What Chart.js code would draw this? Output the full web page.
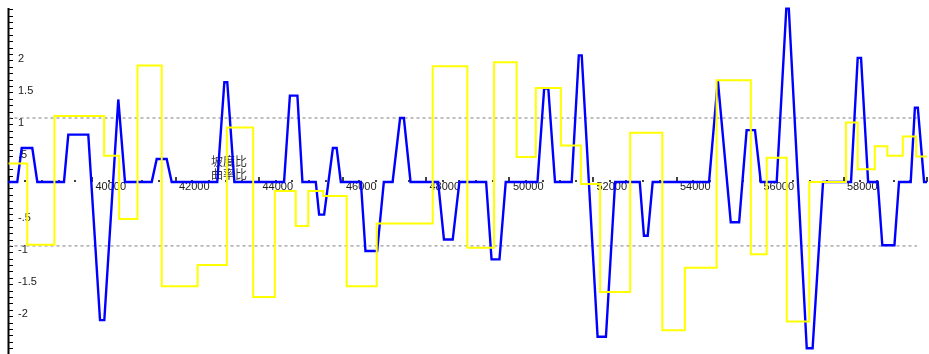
<!DOCTYPE html>
<html>
<head>
<meta charset="utf-8">
<script src="https://cdn.jsdelivr.net/npm/chart.js@4/dist/chart.umd.min.js"></script>
<style>
  html, body { margin: 0; padding: 0; background: #ffffff; }
  #wrap { width: 929px; height: 354px; }
</style>
</head>
<body>
<div id="wrap"><canvas id="c" width="929" height="354"></canvas></div>
<script>
// Series names
const seriesNames = ['坡度比', '曲率比'];

// 坡度比 (blue polyline): chainage and ratio
const blueX = [38000, 38210, 38316, 38570, 38690, 39329, 39432, 39911, 40192, 40295,
  40630, 40790, 41430, 41550, 41789, 41909, 43000, 43170, 43240, 43410,
  44600, 44740, 44920, 45040, 45360, 45440, 45560, 45770, 45860, 45960,
  46440, 46550, 46830, 46990, 47200, 47380, 47470, 47630, 48290, 48430,
  48640, 48800, 49440, 49570, 49760, 49910, 50670, 50830, 50930, 51090,
  51490, 51660, 51730, 52110, 52310, 52530, 53120, 53220, 53310, 53430,
  54780, 54990, 55300, 55500, 55680, 55880, 56020, 56400, 56630, 56690,
  57120, 57260, 57510, 58180, 58340, 58420, 58590, 58820, 58930, 59220,
  59330, 59610, 59710, 59780, 59930, 60000];
const blueY = [0, 0, 0.53, 0.53, 0, 0, 0.74, 0.74, -2.16, -2.16,
  1.29, 0, 0, 0.36, 0.36, 0, 0, 1.56, 1.56, 0,
  0, 1.35, 1.35, 0, 0, -0.51, -0.51, 0.53, 0.53, 0,
  0, -1.08, -1.08, 0, 0, 1.0, 1.0, 0, 0, -0.90,
  -0.90, 0, 0, -1.21, -1.21, 0, 0, 1.46, 1.46, 0,
  0, 1.98, 1.98, -2.42, -2.42, 0, 0, -0.84, -0.84, 0,
  0, 1.59, -0.63, -0.63, 0.81, 0.81, 0, 0, 2.71, 2.71,
  -2.60, -2.60, 0, 0, 1.94, 1.94, 0, 0, -0.99, -0.99,
  0, 0, 1.16, 1.16, 0, 0];

// 曲率比 (yellow steps): start chainage of each step and its level
const yellowX = [38000, 38450, 39100, 40290, 40650, 41090, 41670, 42530, 43230, 43860,
  44380, 44880, 45180, 45540, 46100, 46820, 48160, 48990, 49630, 50170,
  50630, 51230, 51710, 52170, 52890, 53660, 54200, 54960, 55780, 56160,
  56640, 57180, 58060, 58340, 58750, 59050, 59420, 59740, 60000];
const yellowY = [0.29, -0.98, 1.03, 0.41, -0.58, 1.82, -1.63, -1.30, 0.85, -1.80,
  -0.14, -0.69, -0.14, -0.22, -1.63, -0.65, 1.81, -1.03, 1.87, 0.39,
  1.47, 0.57, -0.03, -1.72, 0.77, -2.32, -1.34, 1.59, -1.13, 0.38,
  -2.18, 0, 0.93, 0.20, 0.56, 0.41, 0.71, 0.40, 0.40];

// Reference levels (dashed)
const refX = [38000, 59760];
const refLevels = [1, -1];

// Axis ticks
const xTickValues = [40000, 42000, 44000, 46000, 48000, 50000, 52000, 54000, 56000, 58000];
const yTickValues = [2, 1.5, 1, 0.5, -0.5, -1, -1.5, -2];

const X_MIN = 38000, X_MAX = 60000, Y_MIN = -2.69, Y_MAX = 2.72;

function pts(xs, ys) { return xs.map((x, i) => ({ x: x, y: ys[i] })); }
function fmtY(v) {
  let s = String(Math.abs(v));
  if (s.startsWith('0.')) s = s.slice(1);
  return (v < 0 ? '-' : '') + s;
}

const axesPlugin = {
  id: 'axesPlugin',
  beforeDatasetsDraw(chart) {
    const { ctx, chartArea } = chart;
    const xs = chart.scales.x, ys = chart.scales.y;
    const left = chartArea.left;
    const y0 = ys.getPixelForValue(0);
    ctx.save();

    // left axis line with minor ticks every 0.1
    ctx.strokeStyle = '#000000';
    ctx.lineWidth = 2;
    ctx.beginPath();
    ctx.moveTo(left, chartArea.top);
    ctx.lineTo(left, chartArea.bottom);
    ctx.stroke();
    ctx.lineWidth = 1;
    ctx.beginPath();
    for (let k = -26; k <= 27; k++) {
      const py = Math.round(ys.getPixelForValue(k / 10)) + 0.5;
      ctx.moveTo(left, py);
      ctx.lineTo(left + 4.5, py);
    }
    ctx.stroke();

    // y labels
    ctx.fillStyle = '#1a1a1a';
    ctx.font = '11px "Liberation Sans", Arial, sans-serif';
    ctx.textAlign = 'left';
    ctx.textBaseline = 'middle';
    yTickValues.forEach(v => {
      ctx.fillText(fmtY(v), left + 9.5, ys.getPixelForValue(v) + 4.5);
    });

    // x ticks on the zero line (above it)
    ctx.strokeStyle = '#000000';
    ctx.lineWidth = 1.5;
    for (let v = X_MIN; v <= X_MAX; v += 400) {
      const px = Math.round(xs.getPixelForValue(v));
      const major = (v % 2000) === 0;
      ctx.beginPath();
      ctx.moveTo(px, y0);
      ctx.lineTo(px, y0 - (major ? 5 : 2));
      ctx.stroke();
    }

    // x labels
    ctx.fillStyle = '#1a1a1a';
    ctx.textAlign = 'left';
    ctx.textBaseline = 'middle';
    xTickValues.forEach(v => {
      ctx.fillText(String(v), xs.getPixelForValue(v) + 3.5, y0 + 5.5);
    });

    // series names
    ctx.fillStyle = '#333333';
    ctx.font = '12px "Noto Sans CJK SC", sans-serif';
    chart.data.datasets.slice(0, 2).forEach((ds, i) => {
      ctx.fillText(ds.label, 211, 161 + i * 13.5);
    });
    ctx.restore();
  }
};

new Chart(document.getElementById('c'), {
  type: 'line',
  data: {
    datasets: [
      {
        label: seriesNames[0],
        data: pts(blueX, blueY),
        borderColor: '#0000ff',
        borderWidth: 2.4,
        pointRadius: 0,
        tension: 0,
        fill: false,
        clip: false,
        order: 1
      },
      {
        label: seriesNames[1],
        data: pts(yellowX, yellowY),
        borderColor: '#ffff00',
        borderWidth: 2,
        pointRadius: 0,
        stepped: true,
        fill: false,
        clip: false,
        order: 0
      },
      ...refLevels.map(lv => ({
        label: 'ref' + lv,
        data: pts(refX, refX.map(() => lv)),
        borderColor: '#808080',
        borderWidth: 1,
        borderDash: [3, 3],
        pointRadius: 0,
        fill: false,
        order: 2
      }))
    ]
  },
  options: {
    responsive: false,
    devicePixelRatio: 1,
    animation: false,
    layout: { padding: { left: 8.5, right: 2, top: 8, bottom: 0 } },
    plugins: { legend: { display: false }, tooltip: { enabled: false } },
    scales: {
      x: { type: 'linear', min: X_MIN, max: X_MAX, display: false },
      y: { type: 'linear', min: Y_MIN, max: Y_MAX, display: false }
    }
  },
  plugins: [axesPlugin]
});
</script>
</body>
</html>
